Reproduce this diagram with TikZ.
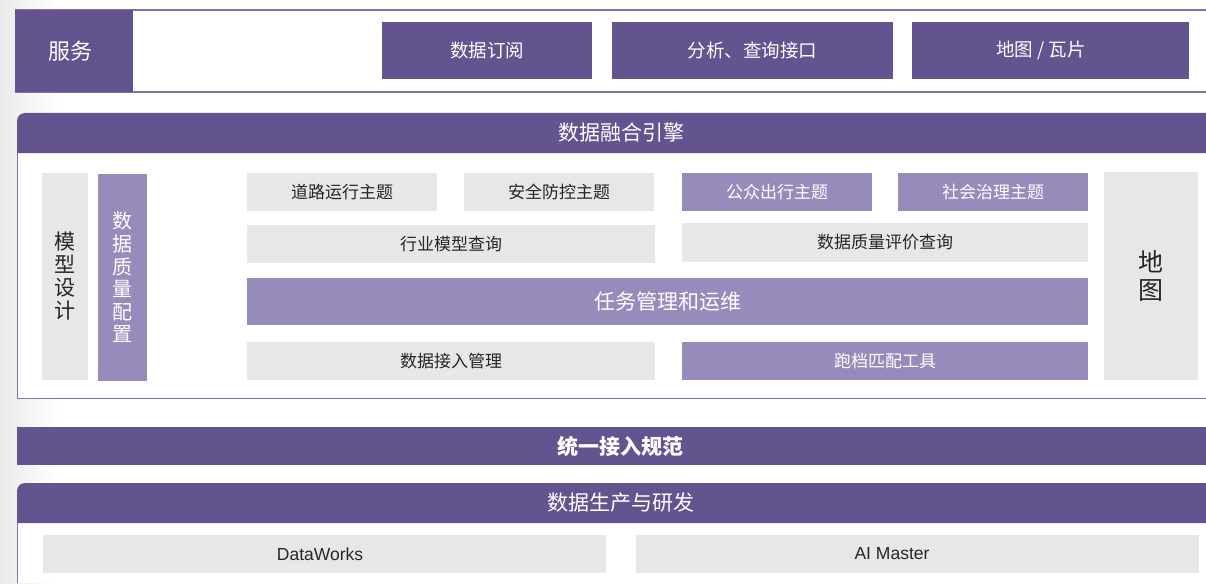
\documentclass[tikz,border=0pt]{standalone}
\usepackage{fontspec}
\setmainfont{Noto Sans CJK SC}
\newfontfamily\latinfont{Liberation Sans}
\definecolor{dpurple}{HTML}{63538F}
\definecolor{lpurple}{HTML}{978BBB}
\definecolor{lgrey}{HTML}{E8E6E8}
\definecolor{lineP}{HTML}{7F72A8}
\tikzset{
  dbox/.style={fill=dpurple, draw=none, text=white, inner sep=0pt},
  lbox/.style={fill=lpurple, draw=none, text=white, inner sep=0pt},
  gbox/.style={fill=lgrey, draw=none, text=black!85, inner sep=0pt},
  small/.style={font=\fontsize{17}{20}\selectfont},
  mid/.style={font=\fontsize{18.5}{22}\selectfont},
  big/.style={font=\fontsize{21}{24}\selectfont},
  header/.style={fill=dpurple},
  latin/.style={font=\latinfont\fontsize{17.5}{20}\selectfont, text=black!85},
}
\begin{document}
\begin{tikzpicture}[x=1pt,y=-1pt]
\useasboundingbox (0,0) rectangle (1206,583);
\fill[white] (0,0) rectangle (1206,583);
\shade[left color=black!8, right color=white] (0,0) rectangle (60,583);
% services
\fill[white] (15,10) rectangle (1206,92);
\draw[lineP, line width=1.5pt] (15,10) -- (1206,10);
\draw[lineP, line width=1.5pt] (15,92) -- (1206,92);
\fill[dpurple] (15,10) rectangle (133,92);
\node[text=white, font=\fontsize{22}{25}\selectfont] (fw) at (70,51) {服务};
\path[dbox, mid] (382,22) rectangle (592,79) node[midway] (s1) {数据订阅};
\path[dbox, mid] (612,22) rectangle (893,79) node[midway] (s2) {分析、查询接口};
\fill[dpurple] (912,22) rectangle (1189,79);
\node[text=white, mid] (s3) at (1041,50.5) {地图 / 瓦片};
% engine
\fill[white] (17,153) rectangle (1206,398);
\draw[lineP, line width=1pt] (17,153) -- (17,398) -- (1206,398);
\fill[header] (17,153) -- (17,121) arc[start angle=180, end angle=90, radius=8pt] -- (1206,113) -- (1206,153) -- cycle;
\node[text=white, big] (eng) at (621,133) {数据融合引擎};
\path[gbox] (42,173) rectangle (88,380) node[midway, align=center, font=\fontsize{21}{23}\selectfont] (mx) {模\\型\\设\\计};
\path[lbox] (98,174) rectangle (147,381) node[midway, align=center, font=\fontsize{20}{22.6}\selectfont] (zl) {数\\据\\质\\量\\配\\置};
\path[gbox, small] (247,173) rectangle (437,211) node[midway] (t1) {道路运行主题};
\path[gbox, small] (464,173) rectangle (654,211) node[midway] (t2) {安全防控主题};
\path[lbox, small] (682,173) rectangle (872,211) node[midway] (t3) {公众出行主题};
\path[lbox, small] (898,173) rectangle (1088,211) node[midway] (t4) {社会治理主题};
\path[gbox, small] (247,225) rectangle (655,263) node[midway] (q1) {行业模型查询};
\path[gbox, small] (682,223) rectangle (1088,262) node[midway] (q2) {数据质量评价查询};
\path[lbox, big] (247,278) rectangle (1088,325) node[midway] (rw) {任务管理和运维};
\path[gbox, small] (247,342) rectangle (655,380) node[midway] (jr) {数据接入管理};
\path[lbox, small] (682,342) rectangle (1088,380) node[midway] (pd) {跑档匹配工具};
\path[gbox] (1104,172) rectangle (1198,380) node[midway, align=center, font=\fontsize{25}{28}\selectfont] (dt) {地\\图};
% unified
\fill[dpurple] (17,427) rectangle (1206,465);
\node[text=white, font=\bfseries\fontsize{21}{24}\selectfont] (ty) at (620,446) {统一接入规范};
% production
\fill[white] (17,523) rectangle (1206,583);
\draw[lineP, line width=1pt] (17,523) -- (17,583);
\fill[header] (17,523) -- (17,491) arc[start angle=180, end angle=90, radius=8pt] -- (1206,483) -- (1206,523) -- cycle;
\node[text=white, big] (sc) at (621,503) {数据生产与研发};
\fill[lgrey] (43,535) rectangle (606,573);
\node[latin] (dw) at (320,554) {DataWorks};
\fill[lgrey] (636,535) rectangle (1199,573);
\node[latin] (ai) at (892,554) {AI Master};
\end{tikzpicture}
\end{document}
